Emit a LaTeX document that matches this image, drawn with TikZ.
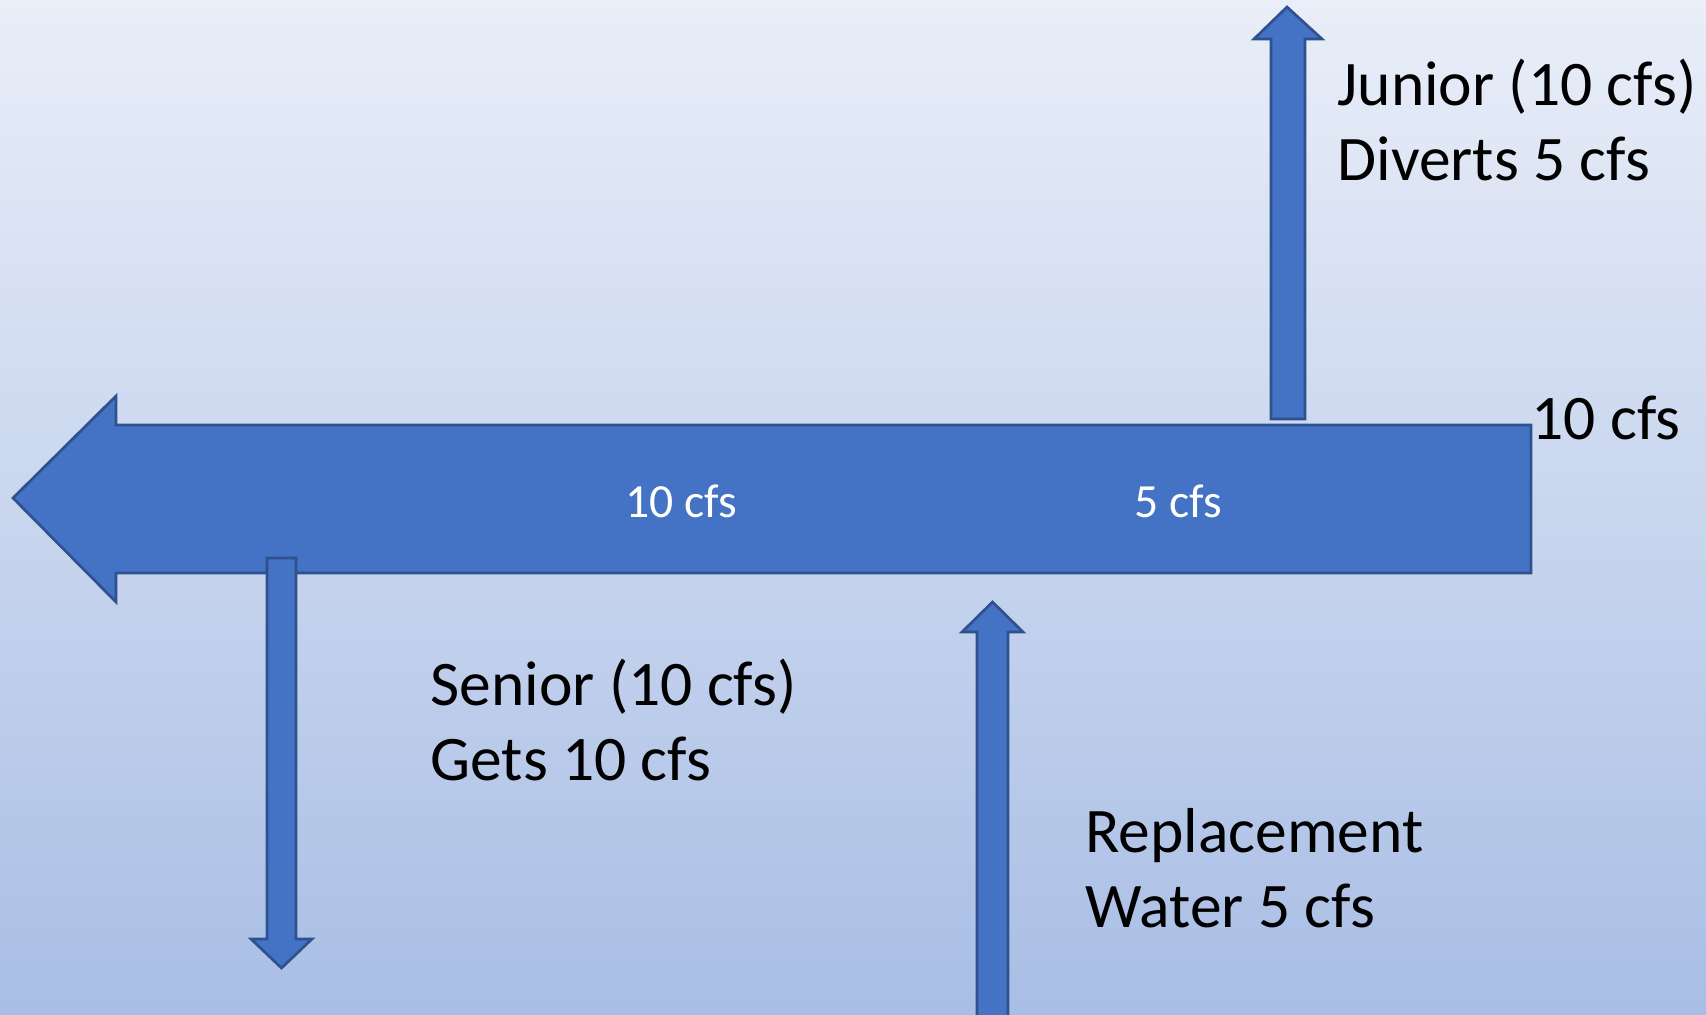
\documentclass[tikz,border=0pt]{standalone}
\usepackage{fontspec}
\setmainfont{Carlito}
\definecolor{bgtop}{HTML}{E9EEF8}
\definecolor{bgmid}{HTML}{CAD6EE}
\definecolor{bgbot}{HTML}{A9BEE5}
\definecolor{arrfill}{HTML}{4472C4}
\definecolor{arrline}{HTML}{2F528F}
\tikzset{
  arrowshape/.style={fill=arrfill, draw=arrline, line width=1.35pt, line join=miter},
  lbl/.style={inner sep=0pt, align=left, text=black, font=\fontsize{31.75pt}{37.5pt}\selectfont},
  wlbl/.style={inner sep=0pt, text=white, font=\fontsize{23.8pt}{28pt}\selectfont}
}
\begin{document}
\begin{tikzpicture}[x=0.5pt,y=-0.5pt]
\useasboundingbox (0,0) rectangle (1706,1014);
\clip (0,0) rectangle (1706,1014);
\shade[top color=bgtop, middle color=bgmid, bottom color=bgbot] (0,0) rectangle (1706,1014);
% main river arrow (flowing left)
\draw[arrowshape] (13,498) -- (116,396) -- (116,425) -- (1531,425) -- (1531,573) -- (116,573) -- (116,602) -- cycle;
% junior diversion (up)
\draw[arrowshape] (1287,7) -- (1322,39) -- (1305,39) -- (1305,419) -- (1271,419) -- (1271,39) -- (1254,39) -- cycle;
% replacement water (up, from below)
\draw[arrowshape] (992.5,602) -- (1023,632) -- (1008,632) -- (1008,1040) -- (977,1040) -- (977,632) -- (962,632) -- cycle;
% senior diversion (down)
\draw[arrowshape] (267,558) -- (296,558) -- (296,939) -- (312,939) -- (281.5,968) -- (251,939) -- (267,939) -- cycle;
% labels (base anchor = baseline of last line)
\node[lbl, anchor=base west] (junior) at (1337,180) {Junior (10 cfs)\\Diverts 5 cfs};
\node[lbl, anchor=base west] (inflow) at (1531,439) {10 cfs};
\node[lbl, anchor=base west] (senior) at (430,780) {Senior (10 cfs)\\Gets 10 cfs};
\node[lbl, anchor=base west] (repl) at (1085,927) {Replacement\\Water 5 cfs};
\node[wlbl, anchor=base] (f10) at (681,517) {10 cfs};
\node[wlbl, anchor=base] (f5) at (1178,517) {5 cfs};
\end{tikzpicture}
\end{document}
